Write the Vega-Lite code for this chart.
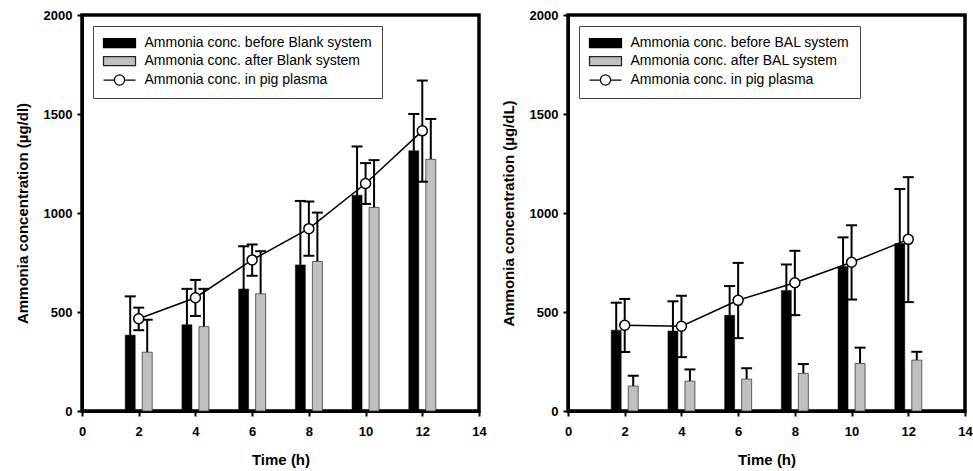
{
  "$schema": "https://vega.github.io/schema/vega-lite/v6.json",
  "background": "white",
  "padding": {"left": 13, "top": 7, "right": 0, "bottom": 0},
  "spacing": 11,
  "datasets": {
    "blank": [
      {"time": 2, "group": "before", "value": 383, "upper": 579},
      {"time": 4, "group": "before", "value": 436, "upper": 617},
      {"time": 6, "group": "before", "value": 616, "upper": 832},
      {"time": 8, "group": "before", "value": 738, "upper": 1061},
      {"time": 10, "group": "before", "value": 1090, "upper": 1336},
      {"time": 12, "group": "before", "value": 1314, "upper": 1500},
      {"time": 2, "group": "after", "value": 297, "upper": 461},
      {"time": 4, "group": "after", "value": 426, "upper": 617},
      {"time": 6, "group": "after", "value": 592, "upper": 807},
      {"time": 8, "group": "after", "value": 755, "upper": 1002},
      {"time": 10, "group": "after", "value": 1028, "upper": 1267},
      {"time": 12, "group": "after", "value": 1271, "upper": 1475},
      {"time": 2, "group": "plasma", "value": 466, "lower": 408, "upper": 522},
      {"time": 4, "group": "plasma", "value": 572, "lower": 480, "upper": 662},
      {"time": 6, "group": "plasma", "value": 763, "lower": 683, "upper": 841},
      {"time": 8, "group": "plasma", "value": 921, "lower": 784, "upper": 1058},
      {"time": 10, "group": "plasma", "value": 1149, "lower": 1046, "upper": 1252},
      {"time": 12, "group": "plasma", "value": 1415, "lower": 1158, "upper": 1669}
    ],
    "bal": [
      {"time": 2, "group": "before", "value": 408, "upper": 547},
      {"time": 4, "group": "before", "value": 404, "upper": 554},
      {"time": 6, "group": "before", "value": 483, "upper": 631},
      {"time": 8, "group": "before", "value": 609, "upper": 740},
      {"time": 10, "group": "before", "value": 730, "upper": 877},
      {"time": 12, "group": "before", "value": 846, "upper": 1121},
      {"time": 2, "group": "after", "value": 126, "upper": 178},
      {"time": 4, "group": "after", "value": 151, "upper": 210},
      {"time": 6, "group": "after", "value": 161, "upper": 216},
      {"time": 8, "group": "after", "value": 190, "upper": 237},
      {"time": 10, "group": "after", "value": 240, "upper": 320},
      {"time": 12, "group": "after", "value": 257, "upper": 299},
      {"time": 2, "group": "plasma", "value": 433, "lower": 298, "upper": 566},
      {"time": 4, "group": "plasma", "value": 428, "lower": 272, "upper": 582},
      {"time": 6, "group": "plasma", "value": 559, "lower": 368, "upper": 748},
      {"time": 8, "group": "plasma", "value": 648, "lower": 484, "upper": 809},
      {"time": 10, "group": "plasma", "value": 751, "lower": 563, "upper": 938},
      {"time": 12, "group": "plasma", "value": 867, "lower": 550, "upper": 1181}
    ]
  },
  "resolve": {"scale": {"fill": "independent", "shape": "independent", "stroke": "independent"}},
  "hconcat": [
    {
      "width": 397,
      "height": 396,
      "data": {"name": "blank"},
      "encoding": {
        "x": {"field": "time", "type": "quantitative", "scale": {"domain": [0, 14], "nice": false, "padding": 0}, "axis": {"values": [0, 2, 4, 6, 8, 10, 12, 14], "title": "Time (h)", "labelFlush": false}},
        "y": {"field": "value", "type": "quantitative", "scale": {"domain": [0, 2000], "nice": false, "padding": 0}, "axis": {"values": [0, 500, 1000, 1500, 2000], "format": "d", "title": "Ammonia concentration (µg/dl)"}}
      },
      "layer": [
        {"transform": [{"filter": "datum.group === 'before'"}], "mark": {"type": "rule", "xOffset": -8.5, "strokeWidth": 2, "color": "black"}, "encoding": {"y2": {"field": "upper"}}},
        {"transform": [{"filter": "datum.group === 'before'"}], "mark": {"type": "tick", "orient": "horizontal", "xOffset": -8.5, "size": 11, "thickness": 2, "color": "black", "opacity": 1}, "encoding": {"y": {"field": "upper", "type": "quantitative"}}},
        {"transform": [{"filter": "datum.group === 'before'"}], "mark": {"type": "bar", "orient": "vertical", "width": 10, "xOffset": -8.5, "fill": "black", "stroke": "black", "strokeWidth": 0.5}},
        {"transform": [{"filter": "datum.group === 'after'"}], "mark": {"type": "rule", "xOffset": 8.5, "strokeWidth": 2, "color": "black"}, "encoding": {"y2": {"field": "upper"}}},
        {"transform": [{"filter": "datum.group === 'after'"}], "mark": {"type": "tick", "orient": "horizontal", "xOffset": 8.5, "size": 11, "thickness": 2, "color": "black", "opacity": 1}, "encoding": {"y": {"field": "upper", "type": "quantitative"}}},
        {"transform": [{"filter": "datum.group === 'after'"}], "mark": {"type": "bar", "orient": "vertical", "width": 10, "xOffset": 8.5, "fill": "#c0c0c0", "stroke": "#333333", "strokeWidth": 0.75}},
        {"transform": [{"filter": "datum.group === 'plasma'"}], "mark": {"type": "rule", "strokeWidth": 2, "color": "black"}, "encoding": {"y": {"field": "lower", "type": "quantitative"}, "y2": {"field": "upper"}}},
        {"transform": [{"filter": "datum.group === 'plasma'"}], "mark": {"type": "tick", "orient": "horizontal", "size": 11, "thickness": 2, "color": "black", "opacity": 1}, "encoding": {"y": {"field": "upper", "type": "quantitative"}}},
        {"transform": [{"filter": "datum.group === 'plasma'"}], "mark": {"type": "tick", "orient": "horizontal", "size": 11, "thickness": 2, "color": "black", "opacity": 1}, "encoding": {"y": {"field": "lower", "type": "quantitative"}}},
        {"transform": [{"filter": "datum.group === 'plasma'"}], "mark": {"type": "line", "color": "black", "strokeWidth": 1.5}},
        {"transform": [{"filter": "datum.group === 'plasma'"}], "mark": {"type": "point", "shape": "circle", "size": 100, "filled": true, "fill": "white", "stroke": "black", "strokeWidth": 1.5, "opacity": 1}},
        {
          "transform": [{"filter": "false"}],
          "mark": {"type": "point", "filled": true, "opacity": 1, "strokeWidth": 1.25},
          "encoding": {
            "fill": {"field": "series", "type": "nominal", "scale": {"domain": ["Ammonia conc. before Blank system", "Ammonia conc. after Blank system", "Ammonia conc. in pig plasma"], "range": ["black", "#c0c0c0", "white"]}, "legend": {"title": null}},
            "stroke": {"field": "series", "type": "nominal", "scale": {"domain": ["Ammonia conc. before Blank system", "Ammonia conc. after Blank system", "Ammonia conc. in pig plasma"], "range": ["black", "#222222", "black"]}, "legend": {"title": null}},
            "shape": {"field": "series", "type": "nominal", "scale": {"domain": ["Ammonia conc. before Blank system", "Ammonia conc. after Blank system", "Ammonia conc. in pig plasma"], "range": ["M-2.667,-0.75H2.667V0.75H-2.667Z", "M-2.667,-0.75H2.667V0.75H-2.667Z", "M-2.667,0H-0.85M0.85,0H2.667M-0.85,0A0.85,0.85,0,1,1,0.85,0A0.85,0.85,0,1,1,-0.85,0Z"]}, "legend": {"title": null}}
          }
        }
      ]
    },
    {
      "width": 397,
      "height": 396,
      "data": {"name": "bal"},
      "encoding": {
        "x": {"field": "time", "type": "quantitative", "scale": {"domain": [0, 14], "nice": false, "padding": 0}, "axis": {"values": [0, 2, 4, 6, 8, 10, 12, 14], "title": "Time (h)", "labelFlush": false}},
        "y": {"field": "value", "type": "quantitative", "scale": {"domain": [0, 2000], "nice": false, "padding": 0}, "axis": {"values": [0, 500, 1000, 1500, 2000], "format": "d", "title": "Ammonia concentration (µg/dL)"}}
      },
      "layer": [
        {"transform": [{"filter": "datum.group === 'before'"}], "mark": {"type": "rule", "xOffset": -8.5, "strokeWidth": 2, "color": "black"}, "encoding": {"y2": {"field": "upper"}}},
        {"transform": [{"filter": "datum.group === 'before'"}], "mark": {"type": "tick", "orient": "horizontal", "xOffset": -8.5, "size": 11, "thickness": 2, "color": "black", "opacity": 1}, "encoding": {"y": {"field": "upper", "type": "quantitative"}}},
        {"transform": [{"filter": "datum.group === 'before'"}], "mark": {"type": "bar", "orient": "vertical", "width": 10, "xOffset": -8.5, "fill": "black", "stroke": "black", "strokeWidth": 0.5}},
        {"transform": [{"filter": "datum.group === 'after'"}], "mark": {"type": "rule", "xOffset": 8.5, "strokeWidth": 2, "color": "black"}, "encoding": {"y2": {"field": "upper"}}},
        {"transform": [{"filter": "datum.group === 'after'"}], "mark": {"type": "tick", "orient": "horizontal", "xOffset": 8.5, "size": 11, "thickness": 2, "color": "black", "opacity": 1}, "encoding": {"y": {"field": "upper", "type": "quantitative"}}},
        {"transform": [{"filter": "datum.group === 'after'"}], "mark": {"type": "bar", "orient": "vertical", "width": 10, "xOffset": 8.5, "fill": "#c0c0c0", "stroke": "#333333", "strokeWidth": 0.75}},
        {"transform": [{"filter": "datum.group === 'plasma'"}], "mark": {"type": "rule", "strokeWidth": 2, "color": "black"}, "encoding": {"y": {"field": "lower", "type": "quantitative"}, "y2": {"field": "upper"}}},
        {"transform": [{"filter": "datum.group === 'plasma'"}], "mark": {"type": "tick", "orient": "horizontal", "size": 11, "thickness": 2, "color": "black", "opacity": 1}, "encoding": {"y": {"field": "upper", "type": "quantitative"}}},
        {"transform": [{"filter": "datum.group === 'plasma'"}], "mark": {"type": "tick", "orient": "horizontal", "size": 11, "thickness": 2, "color": "black", "opacity": 1}, "encoding": {"y": {"field": "lower", "type": "quantitative"}}},
        {"transform": [{"filter": "datum.group === 'plasma'"}], "mark": {"type": "line", "color": "black", "strokeWidth": 1.5}},
        {"transform": [{"filter": "datum.group === 'plasma'"}], "mark": {"type": "point", "shape": "circle", "size": 100, "filled": true, "fill": "white", "stroke": "black", "strokeWidth": 1.5, "opacity": 1}},
        {
          "transform": [{"filter": "false"}],
          "mark": {"type": "point", "filled": true, "opacity": 1, "strokeWidth": 1.25},
          "encoding": {
            "fill": {"field": "series", "type": "nominal", "scale": {"domain": ["Ammonia conc. before BAL system", "Ammonia conc. after BAL system", "Ammonia conc. in pig plasma"], "range": ["black", "#c0c0c0", "white"]}, "legend": {"title": null}},
            "stroke": {"field": "series", "type": "nominal", "scale": {"domain": ["Ammonia conc. before BAL system", "Ammonia conc. after BAL system", "Ammonia conc. in pig plasma"], "range": ["black", "#222222", "black"]}, "legend": {"title": null}},
            "shape": {"field": "series", "type": "nominal", "scale": {"domain": ["Ammonia conc. before BAL system", "Ammonia conc. after BAL system", "Ammonia conc. in pig plasma"], "range": ["M-2.667,-0.75H2.667V0.75H-2.667Z", "M-2.667,-0.75H2.667V0.75H-2.667Z", "M-2.667,0H-0.85M0.85,0H2.667M-0.85,0A0.85,0.85,0,1,1,0.85,0A0.85,0.85,0,1,1,-0.85,0Z"]}, "legend": {"title": null}}
          }
        }
      ]
    }
  ],
  "config": {
    "font": "Liberation Sans",
    "view": {"stroke": "black", "strokeWidth": 3.5},
    "axis": {
      "grid": false,
      "domainColor": "black",
      "domainWidth": 3,
      "tickColor": "black",
      "tickWidth": 2,
      "tickSize": 5,
      "labelFont": "Liberation Sans",
      "labelFontSize": 13,
      "labelFontWeight": "bold",
      "labelColor": "black",
      "titleFont": "Liberation Sans",
      "titleFontSize": 15,
      "titleFontWeight": "bold",
      "titleColor": "black"
    },
    "axisX": {"labelPadding": 9.5, "titlePadding": 14},
    "axisY": {"labelPadding": 5, "titlePadding": 13},
    "legend": {
      "orient": "top-left",
      "offset": 11,
      "padding": 10,
      "fillColor": "white",
      "strokeColor": "#444444",
      "labelFont": "Liberation Sans",
      "labelFontSize": 14,
      "labelColor": "black",
      "labelLimit": 400,
      "symbolSize": 144,
      "symbolOpacity": 1,
      "symbolStrokeWidth": 1.25,
      "symbolOffset": 9.5,
      "labelOffset": 18,
      "rowPadding": 4
    }
  }
}
